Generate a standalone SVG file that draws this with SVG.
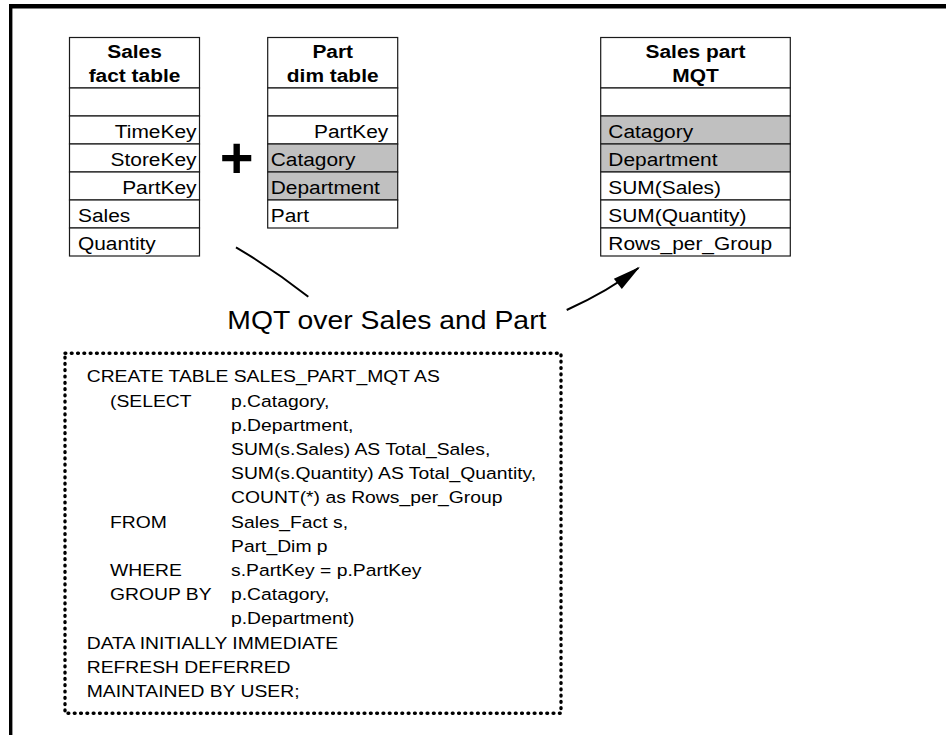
<svg xmlns="http://www.w3.org/2000/svg" width="946" height="735" viewBox="0 0 946 735">
  <defs>
    <style>
      text { font-family: "Liberation Sans", Arial, Helvetica, sans-serif; fill: #000; }
      .hd { font-size: 19px; font-weight: bold; text-anchor: middle; }
      .cell { font-size: 19px; }
      .r { text-anchor: end; }
      .tbl rect { fill: #fff; stroke: #1a1a1a; stroke-width: 1.2; }
      .tbl rect.hl { fill: #c0c0c0; }
      .sql { font-size: 16.8px; }
      .label { font-size: 26px; }
      .conn { fill: none; stroke: #000; stroke-width: 2; }
      .dotted { fill: none; stroke: #000; stroke-width: 3.4; stroke-linecap: round; stroke-dasharray: 0.8 5.5; }
    </style>
    <marker id="arrow" viewBox="-27 -7 30 14" markerWidth="30" markerHeight="14" refX="0" refY="0" orient="auto" markerUnits="userSpaceOnUse">
      <path d="M-26,-6.5 L2,0 L-26,6.5 Z" fill="#000"/>
    </marker>
  </defs>

  <!-- page frame: heavy rule along the top and left edges -->
  <g id="frame" fill="#000">
    <rect x="9" y="4" width="937" height="4.5"/>
    <rect x="9" y="4" width="3.4" height="731"/>
  </g>

  <!-- Sales fact table -->
  <g id="sales-fact" class="tbl">
    <rect x="69.5" y="37.5" width="130" height="50.5"/>
    <rect x="69.5" y="88" width="130" height="28"/>
    <rect x="69.5" y="116" width="130" height="28"/>
    <rect x="69.5" y="144" width="130" height="28"/>
    <rect x="69.5" y="172" width="130" height="28"/>
    <rect x="69.5" y="200" width="130" height="28"/>
    <rect x="69.5" y="228" width="130" height="28"/>
    <text class="hd" transform="translate(134.5 58.3) scale(1.1 1)">Sales</text>
    <text class="hd" transform="translate(134.5 81.7) scale(1.1 1)">fact table</text>
    <text class="cell r" transform="translate(196.5 137.5) scale(1.1 1)">TimeKey</text>
    <text class="cell r" transform="translate(196.5 165.5) scale(1.1 1)">StoreKey</text>
    <text class="cell r" transform="translate(196.5 193.5) scale(1.1 1)">PartKey</text>
    <text class="cell" transform="translate(78 221.5) scale(1.1 1)">Sales</text>
    <text class="cell" transform="translate(78 249.5) scale(1.1 1)">Quantity</text>
  </g>

  <!-- join operator -->
  <g id="join-plus">
    <text transform="translate(236.7 177.5)" style="font-size:58px;font-weight:bold;text-anchor:middle">+</text>
  </g>

  <!-- Part dimension table -->
  <g id="part-dim" class="tbl">
    <rect x="267.7" y="37.5" width="130" height="50.5"/>
    <rect x="267.7" y="88" width="130" height="28"/>
    <rect x="267.7" y="116" width="130" height="28"/>
    <rect class="hl" x="267.7" y="144" width="130" height="28"/>
    <rect class="hl" x="267.7" y="172" width="130" height="28"/>
    <rect x="267.7" y="200" width="130" height="28"/>
    <text class="hd" transform="translate(332.7 58.3) scale(1.1 1)">Part</text>
    <text class="hd" transform="translate(332.7 81.7) scale(1.1 1)">dim table</text>
    <text class="cell r" transform="translate(388.3 137.5) scale(1.1 1)">PartKey</text>
    <text class="cell" transform="translate(270.7 165.5) scale(1.1 1)">Catagory</text>
    <text class="cell" transform="translate(270.7 193.5) scale(1.1 1)">Department</text>
    <text class="cell" transform="translate(270.7 221.5) scale(1.1 1)">Part</text>
  </g>

  <!-- Sales part MQT -->
  <g id="sales-part-mqt" class="tbl">
    <rect x="600.7" y="37.5" width="189.6" height="50.5"/>
    <rect x="600.7" y="88" width="189.6" height="28"/>
    <rect class="hl" x="600.7" y="116" width="189.6" height="28"/>
    <rect class="hl" x="600.7" y="144" width="189.6" height="28"/>
    <rect x="600.7" y="172" width="189.6" height="28"/>
    <rect x="600.7" y="200" width="189.6" height="28"/>
    <rect x="600.7" y="228" width="189.6" height="28"/>
    <text class="hd" transform="translate(695.5 58.3) scale(1.1 1)">Sales part</text>
    <text class="hd" transform="translate(695.5 81.7) scale(1.1 1)">MQT</text>
    <text class="cell" transform="translate(608.3 137.5) scale(1.1 1)">Catagory</text>
    <text class="cell" transform="translate(608.3 165.5) scale(1.1 1)">Department</text>
    <text class="cell" transform="translate(608.3 193.5) scale(1.1 1)">SUM(Sales)</text>
    <text class="cell" transform="translate(608.3 221.5) scale(1.1 1)">SUM(Quantity)</text>
    <text class="cell" transform="translate(608.3 249.5) scale(1.1 1)">Rows_per_Group</text>
  </g>

  <!-- connector: source tables to the MQT, broken by its label -->
  <g id="connectors">
    <path class="conn" d="M236,247.3 Q273.5,269.5 308.3,296.7"/>
    <path class="conn" d="M566.7,310 Q608.7,291 638.4,268" marker-end="url(#arrow)"/>
    <text class="label" transform="translate(227.3 328.5) scale(1.09 1)">MQT over Sales and Part</text>
  </g>

  <!-- SQL definition of the MQT -->
  <g id="sql-definition">
    <rect class="dotted" x="65" y="353.3" width="496" height="360"/>
    <g class="sql" transform="translate(86.7 0) scale(1.15 1)">
      <text x="0" y="382.5">CREATE TABLE SALES_PART_MQT AS</text>
      <text x="20.3" y="406.7">(SELECT</text>
      <text x="125.5" y="406.7">p.Catagory,</text>
      <text x="125.5" y="430.9">p.Department,</text>
      <text x="125.5" y="455.1">SUM(s.Sales) AS Total_Sales,</text>
      <text x="125.5" y="479.3">SUM(s.Quantity) AS Total_Quantity,</text>
      <text x="125.5" y="503.5">COUNT(*) as Rows_per_Group</text>
      <text x="20.3" y="527.7">FROM</text>
      <text x="125.5" y="527.7">Sales_Fact s,</text>
      <text x="125.5" y="551.9">Part_Dim p</text>
      <text x="20.3" y="576.1">WHERE</text>
      <text x="125.5" y="576.1">s.PartKey = p.PartKey</text>
      <text x="20.3" y="600.3">GROUP BY</text>
      <text x="125.5" y="600.3">p.Catagory,</text>
      <text x="125.5" y="624.5">p.Department)</text>
      <text x="0" y="648.7">DATA INITIALLY IMMEDIATE</text>
      <text x="0" y="672.9">REFRESH DEFERRED</text>
      <text x="0" y="697.1">MAINTAINED BY USER;</text>
    </g>
  </g>
</svg>
